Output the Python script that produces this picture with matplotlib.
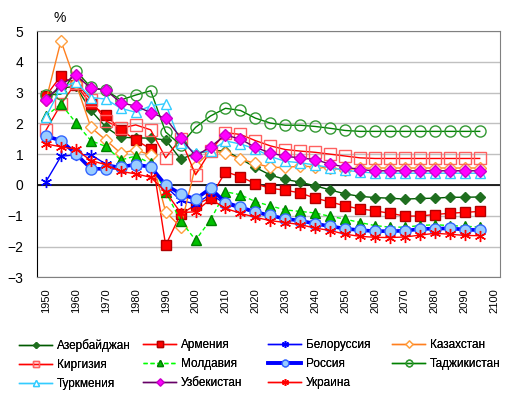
import matplotlib
matplotlib.use("Agg")
import matplotlib.pyplot as plt
import numpy as np

plt.rcParams['font.family'] = ['Liberation Sans', 'DejaVu Sans']

years = list(range(1950, 2100, 5))

azerbaijan = [2.85, 3.15, 3.2, 2.42, 1.88, 1.55, 1.53, 1.52, 1.46, 0.84, 1.02, 1.11, 1.11, 0.85, 0.57,
              0.32, 0.18, 0.09, -0.03, -0.16, -0.29, -0.37, -0.41, -0.43, -0.46, -0.44, -0.43, -0.4, -0.4, -0.39]
armenia = [2.9, 3.54, 3.25, 2.62, 2.27, 1.79, 1.46, 1.17, -1.96, -0.95, -0.65, -0.41, 0.43, 0.27, 0.04,
           -0.11, -0.17, -0.26, -0.43, -0.55, -0.68, -0.78, -0.84, -0.92, -1.01, -1.01, -0.96, -0.92, -0.89, -0.86]
belarus = [0.11, 0.93, 0.98, 0.98, 0.68, 0.6, 0.62, 0.58, -0.05, -0.5, -0.62, -0.3, -0.62, -0.78, -0.9,
           -1.02, -1.1, -1.15, -1.25, -1.35, -1.42, -1.48, -1.5, -1.5, -1.47, -1.44, -1.42, -1.4, -1.42, -1.45]
kazakhstan = [2.75, 4.68, 3.3, 1.87, 1.46, 1.03, 1.14, 0.97, -0.87, -1.37, 0.62, 1.1, 1.04, 0.84, 0.7,
              0.57, 0.57, 0.61, 0.59, 0.54, 0.5, 0.54, 0.55, 0.55, 0.55, 0.55, 0.55, 0.55, 0.55, 0.55]
kyrgyzstan = [1.78, 2.62, 3.32, 2.76, 2.08, 1.84, 1.95, 1.79, 0.88, 1.5, 0.33, 1.11, 1.7, 1.64, 1.44,
              1.27, 1.15, 1.1, 1.06, 1.0, 0.94, 0.88, 0.86, 0.86, 0.86, 0.86, 0.86, 0.86, 0.86, 0.86]
moldova = [2.24, 2.63, 2.02, 1.44, 1.25, 0.81, 0.94, 0.7, -0.22, -1.16, -1.79, -1.14, -0.22, -0.32, -0.54,
           -0.68, -0.81, -0.86, -0.91, -1.02, -1.11, -1.22, -1.32, -1.37, -1.37, -1.32, -1.29, -1.32, -1.34, -1.37]
russia = [1.59, 1.44, 1.01, 0.53, 0.52, 0.59, 0.66, 0.59, 0.0, -0.29, -0.46, -0.11, -0.57, -0.72, -0.88,
          -0.99, -1.1, -1.16, -1.26, -1.34, -1.42, -1.47, -1.5, -1.5, -1.49, -1.43, -1.42, -1.41, -1.45, -1.47]
tajikistan = [2.92, 2.95, 3.71, 3.17, 3.08, 2.76, 2.92, 3.06, 1.72, 1.3, 1.87, 2.24, 2.49, 2.42, 2.17,
              2.01, 1.94, 1.94, 1.9, 1.84, 1.77, 1.74, 1.74, 1.74, 1.74, 1.74, 1.74, 1.74, 1.74, 1.74]
turkmenistan = [2.22, 3.15, 3.35, 2.84, 2.79, 2.49, 2.36, 2.57, 2.64, 1.35, 1.05, 1.1, 1.43, 1.33, 1.17,
                0.92, 0.77, 0.72, 0.65, 0.56, 0.48, 0.42, 0.39, 0.38, 0.38, 0.38, 0.38, 0.38, 0.38, 0.38]
uzbekistan = [2.76, 3.25, 3.57, 3.14, 3.08, 2.67, 2.56, 2.35, 2.16, 1.54, 0.94, 1.24, 1.62, 1.49, 1.22,
              1.04, 0.93, 0.88, 0.82, 0.68, 0.58, 0.5, 0.46, 0.46, 0.46, 0.46, 0.46, 0.46, 0.46, 0.46]
ukraine = [1.33, 1.24, 1.16, 0.79, 0.66, 0.44, 0.36, 0.25, -0.22, -0.9, -0.87, -0.46, -0.76, -0.92, -1.05,
           -1.16, -1.22, -1.29, -1.4, -1.48, -1.6, -1.67, -1.7, -1.71, -1.69, -1.63, -1.57, -1.6, -1.64, -1.65]

star = (6, 2, 0)

fig = plt.figure(figsize=(5.17, 3.96), dpi=100)
ax = fig.add_axes([0.0722, 0.2997, 0.8950, 0.6220])

ax.plot(years, azerbaijan, color='#005a00', lw=1, marker='D', ms=5, mfc='#1f6f1f', mec='#1f6f1f',
        label='Азербайджан')
ax.plot(years, armenia, color='#ff0000', lw=1, marker='s', ms=7, mfc='#ff0000', mec='#b00000',
        label='Армения')
ax.plot(years, belarus, color='#0000ff', lw=1, marker=star, ms=8, mec='#0000ff',
        label='Белоруссия')
ax.plot(years, kazakhstan, color='#ff7f1e', lw=1, marker='D', ms=6, mfc='white', mec='#ffa040',
        label='Казахстан')
ax.plot(years, kyrgyzstan, color='#ff0000', lw=1, marker='s', ms=8, mfc='none', mec='#ff6060',
        label='Киргизия')
ax.plot(years, moldova, color='#00ff00', lw=1, ls='--', dashes=(3, 2), marker='^', ms=7,
        mfc='#00c000', mec='#008000', label='Молдавия')
ax.plot(years, russia, color='#0000ff', lw=2.6, marker='o', ms=8, mfc='#99ccff', mec='#3366ff',
        label='Россия')
ax.plot(years, tajikistan, color='#008000', lw=1, marker='o', ms=8, mfc='none', mec='#339933',
        label='Таджикистан')
ax.plot(years, turkmenistan, color='#33ccff', lw=1, marker='^', ms=7, mfc='white', mec='#33ccff',
        label='Туркмения')
ax.plot(years, uzbekistan, color='#660066', lw=1, marker='D', ms=6, mfc='#ff00ff', mec='#cc00cc',
        label='Узбекистан')
ax.plot(years, ukraine, color='#ff0000', lw=1, marker=star, ms=8, mec='#ff0000',
        label='Украина')

ax.axhline(0, color='black', lw=1.2, zorder=1.5)
ax.set_xlim(1947.1, 2101.8)
ax.set_ylim(-3, 5)
ax.set_yticks(range(-3, 6))
ax.set_xticks(range(1950, 2101, 10))
ax.set_xticklabels([str(y) for y in range(1950, 2101, 10)], rotation=90, fontsize=8)
ax.tick_params(axis='y', labelsize=10, length=0, pad=10)
ax.tick_params(axis='x', length=0, pad=8)
ax.grid(axis='y', color='#c0c0c0', lw=1)
ax.set_axisbelow(True)
for side in ['top', 'right', 'bottom']:
    ax.spines[side].set_color('#808080')
ax.spines['left'].set_color('black')

fig.text(0.116, 0.955, '%', fontsize=10, ha='center', va='center')

# legend in 4 columns, filled row by row like the original
handles, labels = ax.get_legend_handles_labels()
col_x = [19, 143, 268, 392]
for c in range(4):
    idx = list(range(c, len(handles), 4))
    leg = fig.legend([handles[i] for i in idx], [labels[i] for i in idx],
                     loc='upper left', bbox_to_anchor=(col_x[c] / 517, 1 - 339 / 396),
                     frameon=False, fontsize=8.5, markerscale=0.6, handlelength=2.8,
                     handletextpad=0.4, labelspacing=0.58, borderpad=0, borderaxespad=0)
    fig.add_artist(leg)

fig.savefig('out.png', dpi=100)
